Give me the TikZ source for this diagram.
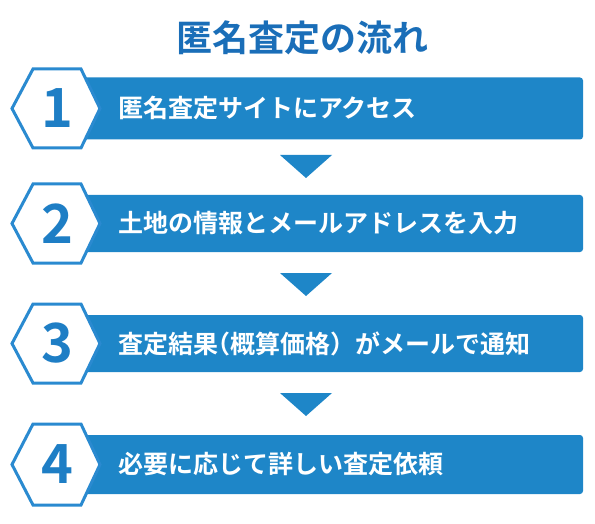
\documentclass[tikz,border=0pt]{standalone}
\usepackage{fontspec}
\newfontfamily\cjk{Noto Sans CJK JP}[BoldFont={Noto Sans CJK JP Bold}]
\definecolor{barblue}{HTML}{1E86C8}
\definecolor{titleblue}{HTML}{1A6EB8}
\definecolor{hexblue}{HTML}{2A8AD0}
\definecolor{digblue}{HTML}{1E7EC5}
\newcommand{\lpar}{{\addfontfeature{RawFeature=+halt}（}}
\begin{document}
\begin{tikzpicture}[x=1pt,y=-1pt,
  bar/.style={fill=barblue, draw=none, rounded corners=3pt},
  hexa/.style={fill=white, draw=hexblue, line width=3pt, line join=miter},
  digit/.style={text=digblue, font=\cjk\bfseries\fontsize{54}{54}\selectfont, inner sep=0pt},
  label/.style={text=white, font=\cjk\bfseries\fontsize{25}{26}\selectfont, anchor=west, inner sep=0pt},
  tri/.style={fill=barblue, draw=none}]
\useasboundingbox (0,0) rectangle (595,524);
\node[text=titleblue, font=\cjk\bfseries\fontsize{36}{38}\selectfont, inner sep=0pt] (title) at (302,38) {匿名査定の流れ};
\foreach \i/\cy/\h/\hh/\txt in {1/108.5/31/39.5/匿名査定サイトにアクセス,
                         2/223.5/28.5/39.5/土地の情報とメールアドレスを入力,
                         3/343.5/28.5/39.5/査定結果\lpar 概算価格）がメールで通知,
                         4/464.5/29.5/40.5/必要に応じて詳しい査定依頼}{
  \fill[bar] (80,\cy-\h) rectangle (583,\cy+\h);
  \draw[hexa] (12,\cy) -- (33,\cy-\hh) -- (81,\cy-\hh) -- (100,\cy) -- (81,\cy+\hh) -- (33,\cy+\hh) -- cycle;
  \node[digit] (d\i) at (57,\cy) {\i};
  \node[label] (t\i) at (118,\cy) {\txt};
}
\foreach \ty in {155,273,393}{
  \fill[tri] (280,\ty) -- (332,\ty) -- (306,\ty+23) -- cycle;
}
\end{tikzpicture}
\end{document}
